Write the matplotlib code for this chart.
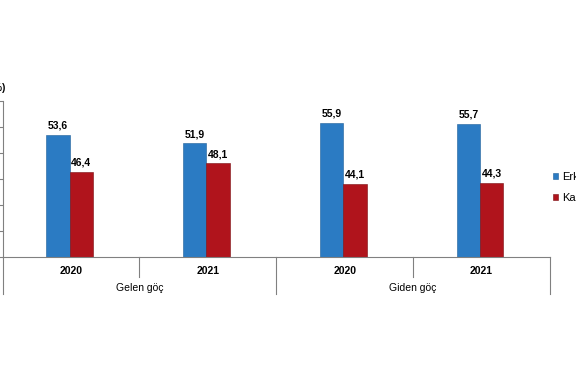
import matplotlib.pyplot as plt
import matplotlib.transforms as mtransforms
import numpy as np

plt.rcParams['font.family'] = ['Liberation Sans', 'DejaVu Sans']

# data
years = ['2020', '2021', '2020', '2021']
groups = ['Gelen göç', 'Giden göç']
erkek = [53.6, 51.9, 55.9, 55.7]
kadin = [46.4, 48.1, 44.1, 44.3]
yticks = [30, 35, 40, 45, 50, 55, 60]

blue = '#2b7bc3'
red = '#b0141c'


def fmt(v):
    return f'{v:.1f}'.replace('.', ',')


fig = plt.figure(figsize=(5.76, 3.75), dpi=100)
W, H = 576, 375
ax = fig.add_axes([2.5 / W, 117.7 / H, 547.5 / W, 156 / H])

x = np.arange(len(years))
w = 0.17
b1 = ax.bar(x - w / 2 - 0.01, erkek, w, color=blue, edgecolor='#1f5f99', linewidth=0.4, label='Erkek')
b2 = ax.bar(x + w / 2 - 0.01, kadin, w, color=red, edgecolor='#7a0e12', linewidth=0.4, label='Kadın')
ax.bar_label(b1, labels=[fmt(v) for v in erkek], padding=3, fontsize=7.5, fontweight='bold')
ax.bar_label(b2, labels=[fmt(v) for v in kadin], padding=3, fontsize=7.5, fontweight='bold')

# y tick labels sit outside the visible frame in the reference
ax.set_ylim(yticks[0], yticks[-1])
ax.set_yticks(yticks)
ax.tick_params(axis='y', length=3, color='#808080', labelleft=False)
ax.set_xlim(-0.5, len(years) - 0.5)
ax.set_xticks(x)
ax.set_xticklabels(years, fontsize=7.5, fontweight='bold')
ax.tick_params(axis='x', length=0, pad=6)

for s in ['top', 'right']:
    ax.spines[s].set_visible(False)
for s in ['left', 'bottom']:
    ax.spines[s].set_color('#808080')
    ax.spines[s].set_linewidth(0.8)

# category separators below the axis
trans = mtransforms.blended_transform_factory(ax.transData, ax.transAxes)
for i in range(len(years) + 1):
    xb = i - 0.5
    bottom = -0.235 if i % 2 == 0 else -0.125
    ax.plot([xb, xb], [0, bottom], color='#808080', lw=0.8, transform=trans, clip_on=False)
for j, g in enumerate(groups):
    ax.text(2 * j + 0.5, -0.195, g, transform=trans, ha='center', va='center', fontsize=7.5)

ax.text(0.0064, 1.085, '(%)', transform=ax.transAxes, ha='right', va='center',
        fontsize=7, fontweight='bold')

ax.legend(loc='center left', bbox_to_anchor=(1.005, 0.447), frameon=False,
          fontsize=8, handlelength=0.5, handleheight=0.5, handletextpad=0.35,
          labelspacing=1.0, borderpad=0, borderaxespad=0)

fig.savefig('out.png', dpi=100)
